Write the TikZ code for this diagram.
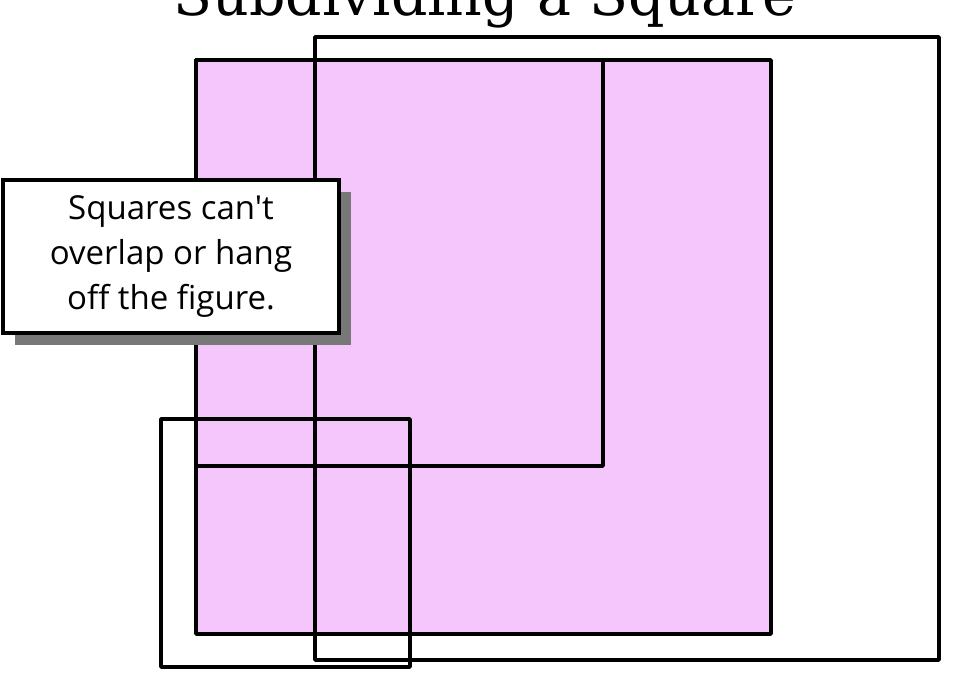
\documentclass[tikz,border=0pt]{standalone}
\usepackage{fontspec}
\newfontfamily\titlefont{DejaVu Serif}
\newfontfamily\notefont{Open Sans}
\usetikzlibrary{shadows}
\definecolor{sqpink}{RGB}{245,198,251}
\definecolor{shadowgr}{RGB}{120,120,120}

\tikzset{
  sqline/.style={line width=3.6pt, line join=round},
  notebox/.style={draw, fill=white, line width=3.6pt, align=center,
    minimum width=336pt, minimum height=153pt, inner sep=0pt,
    font=\notefont\fontsize{33}{45}\selectfont,
    drop shadow={shadow xshift=12pt, shadow yshift=-12pt,
      fill=shadowgr, opacity=1}},
}

\begin{document}
\begin{tikzpicture}[x=1pt, y=-1pt]
  \useasboundingbox (0,0) rectangle (973,673);

  %% title, clipped at the top
  \begin{scope}
    \clip (0,0) rectangle (973,673);
    \node[anchor=base, font=\titlefont\fontsize{57}{57}\selectfont]
      (title) at (485,15) {Subdividing a Square};
  \end{scope}

  %% the filled square and its sub-squares
  \fill[sqpink] (196,60) rectangle (771,634);
  \draw[sqline] (196,60) rectangle (771,634);
  \draw[sqline] (196,60) rectangle (603,466);
  \draw[sqline] (315,37) rectangle (939,660);
  \draw[sqline] (161,419) rectangle (410,667);

  %% callout
  \node[notebox] (note) at (171,256.5)
    {Squares can't\\overlap or hang\\off the figure.};

\end{tikzpicture}
\end{document}
